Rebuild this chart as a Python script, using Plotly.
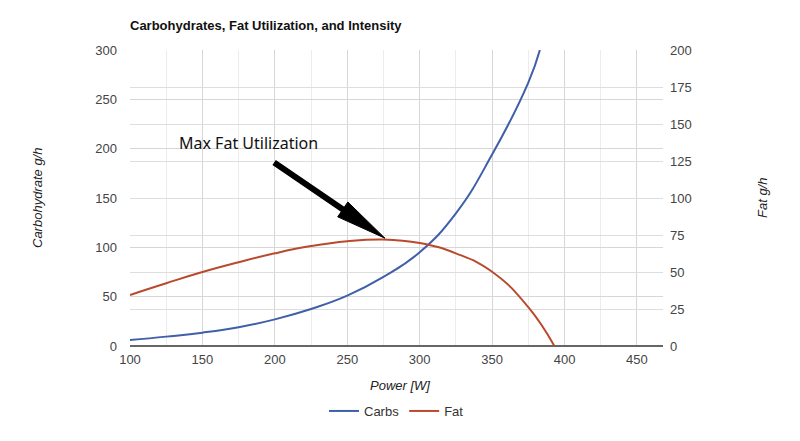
import math
import plotly.graph_objects as go

# Data
carbs_power = [100, 125, 150, 175, 200, 225, 250, 275, 300, 325, 350, 375, 383]
carbs_gh = [6, 9.5, 13.5, 19, 27, 37.5, 51, 70, 95, 134.5, 194, 267, 300]

fat_power = [100, 125, 150, 175, 200, 225, 250, 275, 300, 325, 350, 375, 393]
fat_gh = [34.5, 42.4, 50.0, 56.6, 62.6, 67.5, 70.8, 72, 69.6, 62.6, 50.2, 26.2, 0]

left_ticks = [0, 50, 100, 150, 200, 250, 300]
right_ticks = [0, 25, 50, 75, 100, 125, 150, 175, 200]
x_ticks = [100, 150, 200, 250, 300, 350, 400, 450]

max_fat_point = (276, 109.3)

X_RANGE = [100, 468]
Y_RANGE = [0, 300]
Y2_RANGE = [0, 200]

# page has an 8px body margin; figure is sized so screenshot coords = fig coords + 8
OFF = 8
W, H = 800 - OFF, 441 - OFF
L, R, T, B = 130 - OFF, 137, 50 - OFF, 95
pw = W - L - R
ph = H - T - B


def px(xs):
    return (xs - OFF - L) / pw


def py(ys):
    return 1 - (ys - OFF - T) / ph


# arrow geometry (pixels)
tail_dx, tail_dy = -112.3, -76.6    # tail offset from tip (screen px, y down)
head_len, head_half = 51, 9
sx = pw / (X_RANGE[1] - X_RANGE[0])   # px per W
sy = ph / (Y_RANGE[1] - Y_RANGE[0])   # px per g/h
dist = math.hypot(tail_dx, tail_dy)
ux, uy = -tail_dx / dist, -tail_dy / dist   # unit vector tail->tip (screen)
nx, ny = -uy, ux
tip = max_fat_point


def to_data(dx_px, dy_px):
    return tip[0] + dx_px / sx, tip[1] - dy_px / sy


base = (-head_len * ux, -head_len * uy)
c1 = to_data(base[0] + head_half * nx, base[1] + head_half * ny)
c2 = to_data(base[0] - head_half * nx, base[1] - head_half * ny)
shaft_end = (-(head_len - 6) * ux, -(head_len - 6) * uy)
shaft_end_d = to_data(*shaft_end)
head_path = f"M {tip[0]},{tip[1]} L {c1[0]},{c1[1]} L {c2[0]},{c2[1]} Z"

fig = go.Figure()
fig.add_trace(go.Scatter(x=carbs_power, y=carbs_gh, name="Carbs", mode="lines",
                         line=dict(color="#3f5fa8", width=2, shape="spline", smoothing=1.3),
                         yaxis="y"))
fig.add_trace(go.Scatter(x=fat_power, y=fat_gh, name="Fat", mode="lines",
                         line=dict(color="#b84a2e", width=2, shape="spline", smoothing=1.3),
                         yaxis="y2"))

tickfont = dict(family="Arial, Liberation Sans, sans-serif", size=13, color="#444444")
titlefont = dict(family="Arial, Liberation Sans, sans-serif", size=13, color="#222222")

fig.update_layout(
    width=W, height=H,
    margin=dict(l=L, r=R, t=T, b=B, autoexpand=False),
    paper_bgcolor="white", plot_bgcolor="white",
    title=dict(text="<b>Carbohydrates, Fat Utilization, and Intensity</b>",
               x=(130 - OFF) / W, xanchor="left", y=1 - (25 - OFF) / H, yanchor="middle",
               font=dict(family="Arial, Liberation Sans, sans-serif", size=13, color="#111111")),
    xaxis=dict(range=X_RANGE, tickvals=x_ticks, tickfont=tickfont,
               showgrid=True, gridcolor="#d6d6d6", gridwidth=1,
               minor=dict(dtick=25, tick0=100, showgrid=True, gridcolor="#ececec", gridwidth=1),
               zeroline=False, showline=False, ticks="", ticklabelstandoff=4),
    yaxis=dict(range=Y_RANGE, tickvals=left_ticks, tickfont=tickfont,
               showgrid=True, gridcolor="#d6d6d6", gridwidth=1,
               zeroline=True, zerolinecolor="#666666", zerolinewidth=2,
               showline=False, ticks="", ticklabelstandoff=12),
    yaxis2=dict(range=Y2_RANGE, tickvals=right_ticks, tickfont=tickfont,
                overlaying="y", side="right",
                showgrid=True, gridcolor="#dedede", gridwidth=1,
                zeroline=False, showline=False, ticks="", ticklabelstandoff=6),
    legend=dict(orientation="h", x=0.5, xanchor="center", y=py(411),
                yanchor="middle", font=dict(family="Arial, Liberation Sans, sans-serif",
                                             size=13, color="#333333")),
    showlegend=True,
)

annots = [
    dict(text="<i>Power [W]</i>", xref="paper", yref="paper",
         x=px(400), y=py(385), xanchor="center", yanchor="middle", showarrow=False,
         font=titlefont),
    dict(text="<i>Carbohydrate g/h</i>", xref="paper", yref="paper",
         x=px(37), y=py(198), xanchor="center", yanchor="middle", showarrow=False,
         textangle=-90, font=titlefont),
    dict(text="<i>Fat g/h</i>", xref="paper", yref="paper",
         x=px(762), y=py(198), xanchor="center", yanchor="middle", showarrow=False,
         textangle=-90, font=titlefont),
    dict(text="Max Fat Utilization", xref="x", yref="y", x=182, y=205.5, showarrow=False,
         xanchor="center", yanchor="middle",
         font=dict(family="Noto Sans, sans-serif", size=16, color="#111111")),
    # arrow shaft (from tail to just inside the head)
    dict(text="", xref="x", yref="y", x=shaft_end_d[0], y=shaft_end_d[1],
         showarrow=True, ax=tail_dx - shaft_end[0], ay=tail_dy - shaft_end[1], arrowhead=0,
         arrowwidth=6, arrowcolor="#000000", standoff=0),
]
fig.update_layout(annotations=annots)
fig.add_shape(type="path", path=head_path, xref="x", yref="y",
              fillcolor="#000000", line=dict(color="#000000", width=1), layer="above")

fig.write_html("out.html")
